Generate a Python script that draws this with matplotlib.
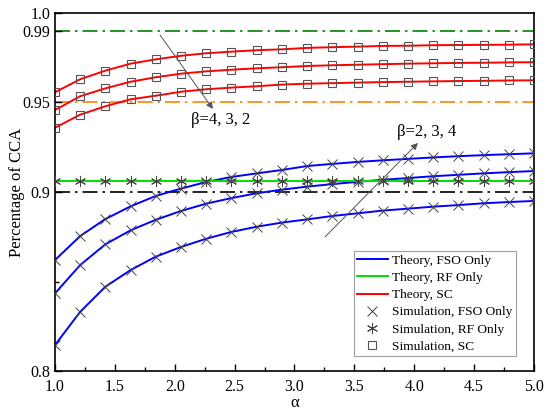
import numpy as np
import matplotlib
matplotlib.use("Agg")
import matplotlib.pyplot as plt
from matplotlib.ticker import FixedLocator

plt.rcParams['font.family'] = ['Liberation Serif', 'DejaVu Serif']
plt.rcParams['mathtext.fontset'] = 'stix'

# alpha grid (20 points from 1 to 5)
alpha = np.linspace(1.0, 5.0, 20)

# FSO only, beta = 2, 3, 4
fso_b2 = [0.8145, 0.8331, 0.8471, 0.8564, 0.8639, 0.8693, 0.8739, 0.8777, 0.8806, 0.8829,
          0.8847, 0.8866, 0.8881, 0.8896, 0.8907, 0.8918, 0.8927, 0.8937, 0.8944, 0.8950]
fso_b3 = [0.8434, 0.8592, 0.8708, 0.8786, 0.8845, 0.8894, 0.8935, 0.8966, 0.8993, 0.9013,
          0.9030, 0.9044, 0.9057, 0.9068, 0.9078, 0.9088, 0.9096, 0.9104, 0.9111, 0.9117]
fso_b4 = [0.8620, 0.8754, 0.8849, 0.8920, 0.8978, 0.9019, 0.9056, 0.9084, 0.9104, 0.9123,
          0.9145, 0.9157, 0.9168, 0.9177, 0.9185, 0.9193, 0.9200, 0.9206, 0.9211, 0.9216]

# RF only
rf = [0.906] * 20

# SC, beta = 2, 3, 4
sc_b2 = [0.9359, 0.9432, 0.9479, 0.9518, 0.9538, 0.9560, 0.9574, 0.9583, 0.9591, 0.9600,
         0.9605, 0.9608, 0.9611, 0.9614, 0.9616, 0.9618, 0.9620, 0.9621, 0.9623, 0.9624]
sc_b3 = [0.9458, 0.9535, 0.9579, 0.9616, 0.9641, 0.9661, 0.9674, 0.9683, 0.9691, 0.9697,
         0.9704, 0.9708, 0.9711, 0.9714, 0.9717, 0.9719, 0.9721, 0.9722, 0.9724, 0.9725]
sc_b4 = [0.9557, 0.9630, 0.9678, 0.9717, 0.9741, 0.9761, 0.9775, 0.9784, 0.9792, 0.9797,
         0.9805, 0.9809, 0.9812, 0.9816, 0.9817, 0.9820, 0.9821, 0.9822, 0.9823, 0.9825]

# reference levels
ref_levels = [0.99, 0.95, 0.9]
ref_colors = ['#008000', '#ff8000', 'black']

yticks = [0.8, 0.9, 0.95, 0.99, 1.0]
ytick_labels = ['0.8', '0.9', '0.95', '0.99', '1.0']

fig = plt.figure(figsize=(5.5, 4.11), dpi=100)
ax = fig.add_axes([0.1, 0.0973, 0.8709, 0.8711])

dashdot = (0, (9, 3, 1.5, 3))
for lvl, c in zip(ref_levels, ref_colors):
    ax.axhline(lvl, color=c, lw=1.2, ls=dashdot, zorder=1)

mk_gray = '#444444'
for ys in (fso_b2, fso_b3, fso_b4):
    ax.plot(alpha, ys, color='#0000ff', lw=1.4, zorder=2)
    ax.plot(alpha, ys, ls='none', marker='x', ms=7, mew=0.7, color=mk_gray, zorder=3)

ax.plot(alpha, rf, color='#00e000', lw=1.4, zorder=2)
ax.plot(alpha, rf, ls='none', marker=(6, 2, 0), ms=8, mew=0.7, color=mk_gray, zorder=3)

for ys in (sc_b2, sc_b3, sc_b4):
    ax.plot(alpha, ys, color='#ff0000', lw=1.4, zorder=2)
    ax.plot(alpha, ys, ls='none', marker='s', ms=6, mew=0.8, mfc='none', mec='#555555', zorder=3)

# legend handles
h1, = ax.plot([], [], color='#0000ff', lw=1.4, label='Theory, FSO Only')
h2, = ax.plot([], [], color='#00e000', lw=1.4, label='Theory, RF Only')
h3, = ax.plot([], [], color='#ff0000', lw=1.4, label='Theory, SC')
h4, = ax.plot([], [], ls='none', marker='x', ms=7, mew=0.7, color=mk_gray, label='Simulation, FSO Only')
h5, = ax.plot([], [], ls='none', marker=(6, 2, 0), ms=8, mew=0.7, color=mk_gray, label='Simulation, RF Only')
h6, = ax.plot([], [], ls='none', marker='s', ms=6, mew=0.8, mfc='none', mec='#555555', label='Simulation, SC')
leg = ax.legend(handles=[h1, h2, h3, h4, h5, h6], loc='lower right', bbox_to_anchor=(0.963, 0.042),
                fontsize=9.6, frameon=True, fancybox=False, edgecolor='#888888',
                handlelength=2.3, handletextpad=0.35, labelspacing=0.36, borderpad=0.25,
                borderaxespad=0.0)
leg.get_frame().set_linewidth(0.8)

# annotations
ax.annotate('', xy=(2.319, 0.9464), xytext=(1.877, 0.9877),
            arrowprops=dict(arrowstyle='-|>', color='#555555', lw=0.7,
                            mutation_scale=10, shrinkA=0, shrinkB=0))
ax.text(2.386, 0.9402, 'β=4, 3, 2', fontsize=12, ha='center', va='center')
ax.annotate('', xy=(4.031, 0.9274), xytext=(3.255, 0.8749),
            arrowprops=dict(arrowstyle='-|>', color='#555555', lw=0.7,
                            mutation_scale=10, shrinkA=0, shrinkB=0))
ax.text(4.106, 0.9335, 'β=2, 3, 4', fontsize=12, ha='center', va='center')

ax.set_xlim(1.0, 5.0)
ax.set_ylim(0.8, 1.0)
ax.set_xticks(np.arange(1.0, 5.01, 0.5))
ax.xaxis.set_minor_locator(FixedLocator(np.arange(1.25, 5.0, 0.5)))
ax.set_yticks(yticks)
ax.set_yticklabels(ytick_labels)
ax.yaxis.set_minor_locator(FixedLocator([0.85]))
ax.tick_params(axis='both', which='both', direction='in', labelsize=11.5, top=False, right=False)
ax.tick_params(which='major', length=5, width=1)
ax.tick_params(which='minor', length=3, width=1)
ax.tick_params(axis='x', pad=6)
for s in ax.spines.values():
    s.set_linewidth(1.2)

ax.set_xlabel('α', fontsize=12, labelpad=0)
ax.set_ylabel('Percentage of CCA', fontsize=12, labelpad=-2)

fig.savefig('out.png', dpi=100)
